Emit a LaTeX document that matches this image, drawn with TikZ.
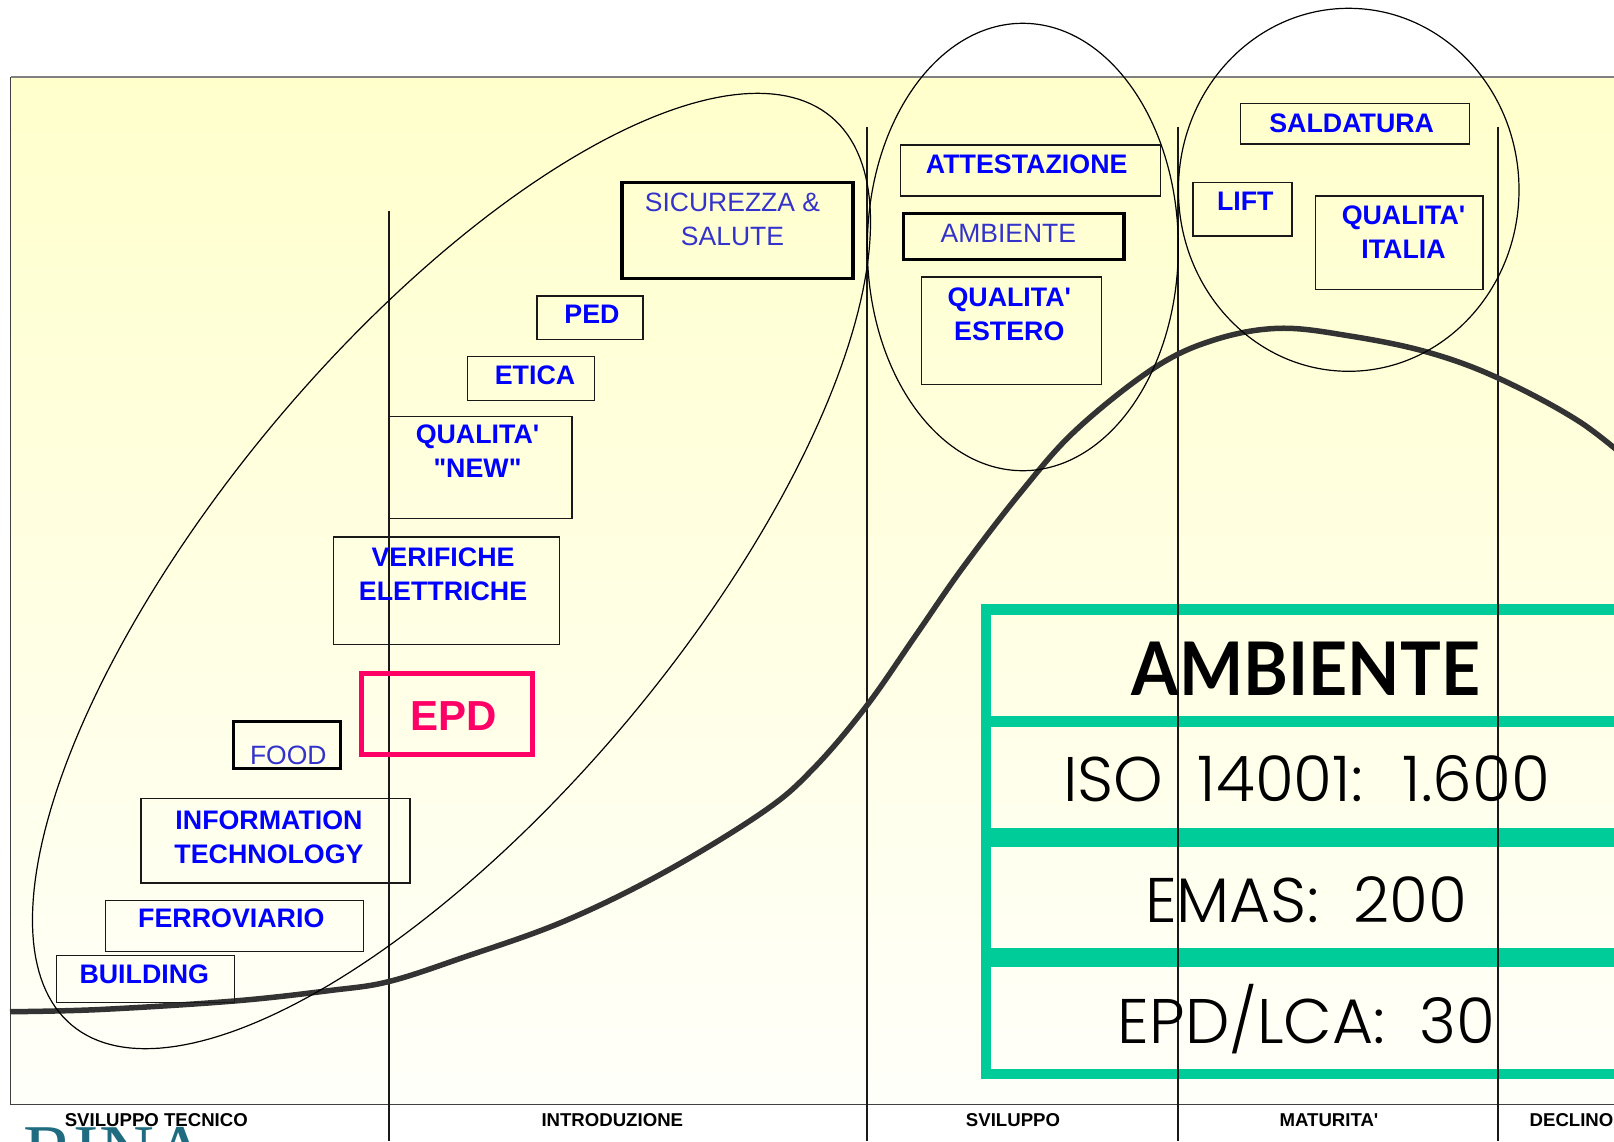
\documentclass[tikz,border=0pt]{standalone}
\usepackage{fontspec}
\setmainfont{Liberation Sans}[Ligatures=TeXOff]
\newfontfamily\thinA{Poppins Light}[WordSpace=2.0]
\newfontfamily\heavyfont{Lato Bold}[FakeStretch=0.92]
\newfontfamily\logofont{Liberation Serif}
\definecolor{tablegreen}{HTML}{00CC99}
\definecolor{boldblue}{HTML}{0000FF}
\definecolor{softblue}{HTML}{3333CC}
\definecolor{epdpink}{HTML}{FF0066}
\definecolor{curvegrey}{HTML}{333333}
\definecolor{logoteal}{HTML}{1F6B80}
\tikzset{
  x=1pt,y=-1pt,
  thinbox/.style={draw=black!90,line width=1.3pt},
  thickbox/.style={draw=black,line width=3.2pt},
  epdbox/.style={draw=epdpink,line width=5pt},
  oval/.style={draw=black,line width=1.2pt},
  stage/.style={draw=black!90,line width=1.2pt},
  band/.style={fill=tablegreen,draw=none},
  lab/.style={anchor=north,inner sep=0pt,align=center,text=boldblue,font=\fontsize{26.8}{34.2}\selectfont\bfseries},
  softlab/.style={anchor=north,inner sep=0pt,align=center,text=softblue,font=\fontsize{26.5}{34.5}\selectfont},
  stagelab/.style={anchor=north,inner sep=0pt,text=black,font=\fontsize{18.6}{20}\selectfont\bfseries},
  tablelab/.style={anchor=center,inner sep=0pt,text=black,font=\fontsize{63}{70}\selectfont\thinA},
}
\begin{document}
\begin{tikzpicture}
\path[use as bounding box,clip] (0,0) rectangle (1614,1141);
\fill[white] (0,0) rectangle (1614,1141);
% background panel
\shade[top color=yellow!20,bottom color=white!98!yellow] (10.5,77) rectangle (1640,1104.5);
\draw[draw=black!50,line width=1.4pt] (1640,77) -- (10.5,77);
\draw[draw=black!75,line width=1.4pt] (10.5,77) -- (10.5,1104.5) -- (1640,1104.5);
% green table
\fill[band] (981,604.3) rectangle (1640,615);
\fill[band] (981,716) rectangle (1640,726.7);
\fill[band] (981,828.3) rectangle (1640,846.7);
\fill[band] (981,948.3) rectangle (1640,966.7);
\fill[band] (981,1068.7) rectangle (1640,1079);
\fill[band] (981,604.3) rectangle (991.3,1079);
% stage lines
\draw[stage] (389,210.7) -- (389,1141);
\draw[stage] (867,126.7) -- (867,1141);
\draw[stage] (1178,126.7) -- (1178,1141);
\draw[stage] (1498,126.7) -- (1498,1141);
% life-cycle curve
\draw[curvegrey,line width=5.5pt,line join=round] plot[smooth,tension=0.6] coordinates {
 (10,1011.7) (100,1009.5) (234,1001) (330,990.5) (389,981.5) (463,957.5) (563,921.7)
 (663,873) (763,812) (813,769) (866,706.7) (916,635) (962.5,568) (1021,492) (1076,430)
 (1153.6,368.3) (1213.9,340) (1279.3,328.3) (1350,336) (1427,352) (1498,378) (1580,422)
 (1640,470)};
% ovals
\draw[oval] plot[domain=0:360,samples=241,variable=\t]
 ({451.5+592*cos(\t)*cos(50.1)+231*sin(\t)*sin(50.1)},{571-592*cos(\t)*sin(50.1)+231*sin(\t)*cos(50.1)}) -- cycle;
\draw[oval] (1022.8,247) ellipse [x radius=155.5,y radius=223.7];
\draw[oval] (1348.7,189.8) ellipse [x radius=170.3,y radius=181.5];
% boxes
\draw[thinbox] (56.7,955.3) rectangle (234.3,1002.3);
\draw[thinbox] (105.7,900.7) rectangle (363.7,951.7);
\draw[thinbox] (141,798.3) rectangle (410,883);
\draw[thickbox] (233.7,721.3) rectangle (340.3,768.7);
\draw[epdbox] (361.7,673.3) rectangle (532.3,754);
\draw[thinbox] (333.6,537) rectangle (559.6,644.7);
\draw[thinbox] (389,416.7) rectangle (572,518.7);
\draw[thinbox] (467.5,356.7) rectangle (594.6,400.7);
\draw[thinbox] (537,296) rectangle (643,339.7);
\draw[thickbox] (622,182.7) rectangle (852.9,278.3);
\draw[thinbox] (900.3,145) rectangle (1160.7,196);
\draw[thickbox] (903.3,213.3) rectangle (1124,259.3);
\draw[thinbox] (921.7,277) rectangle (1101.7,384.7);
\draw[thinbox] (1240.3,103.7) rectangle (1469.7,144);
\draw[thinbox] (1193,182.7) rectangle (1292,236);
\draw[thinbox] (1315.3,196) rectangle (1483,289.7);
% box labels
\node[lab] (building) at (144.3,964.6) {BUILDING};
\node[lab] (ferro) at (231.3,908.6) {FERROVIARIO};
\node[lab] (info) at (269,810.6) {INFORMATION\\TECHNOLOGY};
\node[softlab] (food) at (288.3,745.5) {FOOD};
\node[lab,text=epdpink,font=\fontsize{42}{46}\selectfont\bfseries] (epd) at (454,701.5) {EPD};
\node[lab] (verif) at (443,547.2) {VERIFICHE\\ELETTRICHE};
\node[lab] (qnew) at (477.5,424.6) {QUALITA'\\"NEW"};
\node[lab] (etica) at (535,366) {ETICA};
\node[lab] (ped) at (592,305) {PED};
\node[softlab] (sic) at (732.5,192.7) {SICUREZZA \&\\SALUTE};
\node[lab] (att) at (1026.7,154.6) {ATTESTAZIONE};
\node[softlab] (amb) at (1008.3,223.6) {AMBIENTE};
\node[lab] (qest) at (1009.3,287.6) {QUALITA'\\ESTERO};
\node[lab] (sald) at (1351.7,113.6) {SALDATURA};
\node[lab] (lift) at (1245.3,192) {LIFT};
\node[lab] (qita) at (1403.5,205.6) {QUALITA'\\ITALIA};
% table labels
\node[tablelab,font=\fontsize{74}{80}\selectfont\heavyfont] (t0) at (1306,668.3) {AMBIENTE};
\node[tablelab] (t1) at (1306.7,779) {ISO 14001: 1.600};
\node[tablelab] (t2) at (1306,899.3) {EMAS: 200};
\node[tablelab] (t3) at (1306.7,1019.3) {EPD/LCA: 30};
% stage labels
\node[stagelab] (s1) at (156.3,1113.2) {SVILUPPO TECNICO};
\node[stagelab] (s2) at (612.3,1113.2) {INTRODUZIONE};
\node[stagelab] (s3) at (1013,1113.2) {SVILUPPO};
\node[stagelab] (s4) at (1329,1113.2) {MATURITA'};
\node[stagelab] (s5) at (1571.5,1113.2) {DECLINO};
% logo, cut by the page edge
\node[anchor=north,inner sep=0pt,text=logoteal,font=\fontsize{76}{80}\selectfont\logofont] (logo) at (116,1127.5) {RINA};
\end{tikzpicture}
\end{document}
